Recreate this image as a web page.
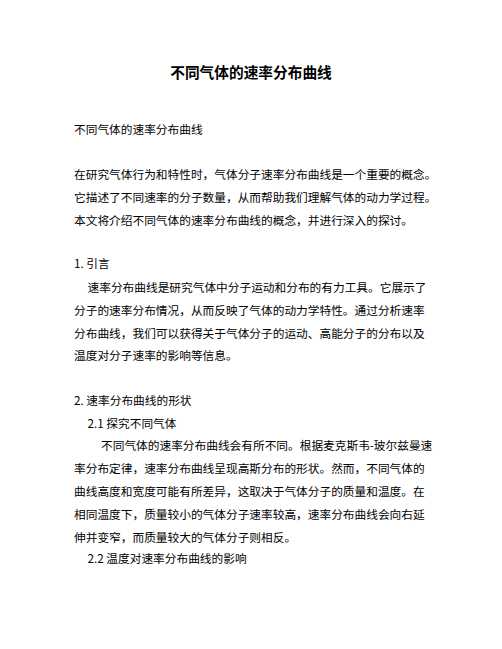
<!DOCTYPE html>
<html>
<head>
<meta charset="utf-8">
<script src="https://cdn.jsdelivr.net/npm/chart.js"></script>
<style>
  html, body { margin: 0; padding: 0; background: #fff; }
  body { width: 502px; height: 649px; position: relative; overflow: hidden;
         font-family: "Noto Sans CJK SC", "Noto Sans", sans-serif; color: #000; }
  .ln { position: absolute; white-space: nowrap; font-size: 11.7px; line-height: 16px; }
  .title { position: absolute; left: 0; width: 502px; text-align: center; font-weight: bold;
           font-size: 14.7px; line-height: 20px; }
</style>
</head>
<body>
<div id="page"></div>
<script>
// page text, line by line as in the scan
const title = '不同气体的速率分布曲线';
const lines = [
  '不同气体的速率分布曲线',
  '在研究气体行为和特性时，气体分子速率分布曲线是一个重要的概念。',
  '它描述了不同速率的分子数量，从而帮助我们理解气体的动力学过程。',
  '本文将介绍不同气体的速率分布曲线的概念，并进行深入的探讨。',
  '1. 引言',
  '速率分布曲线是研究气体中分子运动和分布的有力工具。它展示了',
  '分子的速率分布情况，从而反映了气体的动力学特性。通过分析速率',
  '分布曲线，我们可以获得关于气体分子的运动、高能分子的分布以及',
  '温度对分子速率的影响等信息。',
  '2. 速率分布曲线的形状',
  '2.1 探究不同气体',
  '不同气体的速率分布曲线会有所不同。根据麦克斯韦-玻尔兹曼速',
  '率分布定律，速率分布曲线呈现高斯分布的形状。然而，不同气体的',
  '曲线高度和宽度可能有所差异，这取决于气体分子的质量和温度。在',
  '相同温度下，质量较小的气体分子速率较高，速率分布曲线会向右延',
  '伸并变窄，而质量较大的气体分子则相反。',
  '2.2 温度对速率分布曲线的影响'
];
// indent level of each line (0 = margin)
const indents = [0,0,0,0,0,1,0,0,0,0,1,2,0,0,0,0,1];

// layout
const lineY = [129,174,197,220,263,287,310,333,355,400,423,445,468,491,514,537,558];
const marginX = 74, indentStep = 13.5;

const page = document.getElementById('page');
const t = document.createElement('div');
t.className = 'title';
t.style.top = (72 - 10) + 'px';
t.textContent = title;
page.appendChild(t);

lines.forEach(function (txt, i) {
  const d = document.createElement('div');
  d.className = 'ln';
  d.style.left = (marginX + indents[i] * indentStep) + 'px';
  d.style.top = (lineY[i] - 8) + 'px';
  d.textContent = txt;
  page.appendChild(d);
});
</script>
</body>
</html>
